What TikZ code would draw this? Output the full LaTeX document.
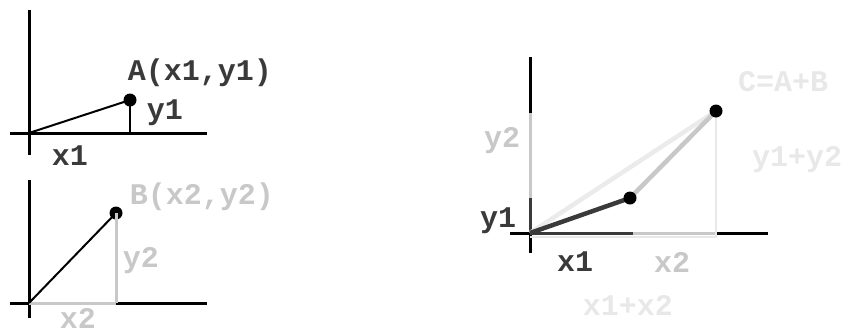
\documentclass[tikz,border=0pt]{standalone}
\usepackage{fontspec}
\setmonofont{Liberation Mono}
\usepackage{tikz}
\usetikzlibrary{positioning,calc}
\definecolor{midgray}{HTML}{C8C8C8}
\definecolor{palegray}{HTML}{E8E8E8}
\definecolor{darkgray}{HTML}{3A3A3A}

\begin{document}
\begin{tikzpicture}[x=1pt,y=-1pt,
  lbl/.style={font=\ttfamily\bfseries\fontsize{30}{30}\selectfont,inner sep=0pt},
  axis/.style={line width=3pt,black},
  vec/.style={line width=2pt,black},
  dot/.style={circle,fill=black,inner sep=0pt,minimum size=13pt}]
\useasboundingbox (0,0) rectangle (862,333);
% vector A
\coordinate (oA) at (29,133);
\coordinate (ayA) at (29,10);  \coordinate (ayA2) at (29,155);
\coordinate (axA) at (10,133); \coordinate (axA2) at (207,133);
\coordinate (fA) at (130,133);
\draw[axis] (ayA) -- (ayA2);
\draw[axis] (axA) -- (axA2);
\draw[vec] (oA) -- (130,100) node[dot] (pA) {};
\draw[vec] (pA.center) -- (fA);
\node[lbl,text=darkgray] (lA) at (200,73) {A(x1,y1)};
\node[lbl,text=darkgray] (lAy) at (165,113) {y1};
\node[lbl,text=darkgray] (lAx) at (70,156) {x1};
% vector B
\coordinate (oB) at (29,303);
\coordinate (ayB) at (29,180); \coordinate (ayB2) at (29,318);
\coordinate (axB) at (10,303); \coordinate (axB2) at (207,303);
\coordinate (fB) at (116,303);
\draw[axis] (ayB) -- (ayB2);
\draw[axis] (axB) -- (axB2);
\draw[axis,midgray] (oB) -- (fB);
\draw[vec] (oB) -- (116,213) node[dot] (pB) {};
\draw[line width=3pt,midgray] (pB.center) -- (fB);
\node[lbl,text=midgray] (lB) at (202,197) {B(x2,y2)};
\node[lbl,text=midgray] (lBy) at (141,261) {y2};
\node[lbl,text=midgray] (lBx) at (78,318) {x2};
% sum C
\coordinate (oC) at (530,233);
\coordinate (ayC) at (530,57);  \coordinate (ayC2) at (530,253);
\coordinate (axC) at (510,233); \coordinate (axC2) at (768,233);
\coordinate (yC1) at (530,198); \coordinate (yC2) at (530,113);
\coordinate (xC1) at (633,233); \coordinate (xC2) at (717,233);
\coordinate (sx) at (530,237); \coordinate (sx2) at (717,237);
\coordinate (pA2c) at (630,198); \coordinate (pCc) at (716,111);
\draw[axis] (ayC) -- (ayC2);
\draw[axis] (axC) -- (axC2);
\draw[axis,darkgray] (oC) -- (yC1);
\draw[axis,midgray] (yC1) -- (yC2);
\draw[axis,darkgray] (oC) -- (xC1);
\draw[axis,midgray] (xC1) -- (xC2);
\draw[line width=2pt,palegray] (sx) -- (sx2);
\draw[line width=2pt,palegray] (pCc) -- (716,237);
\draw[line width=4.5pt,palegray!85] (oC) -- (pCc);
\draw[line width=4.5pt,midgray] (pA2c) -- (pCc);
\draw[line width=4.5pt,darkgray] (oC) -- (pA2c);
\node[dot] (pA2) at (pA2c) {};
\node[dot] (pC) at (pCc) {};
\node[lbl,text=palegray] (lC) at (783,82) {C=A+B};
\node[lbl,text=palegray] (lCy) at (797,160) {y1+y2};
\node[lbl,text=midgray] (lCy2) at (502,141) {y2};
\node[lbl,text=darkgray] (lCy1) at (498,221) {y1};
\node[lbl,text=darkgray] (lCx1) at (575,262) {x1};
\node[lbl,text=midgray] (lCx2) at (672,262) {x2};
\node[lbl,text=palegray] (lCx) at (628,305) {x1+x2};
\end{tikzpicture}
\end{document}
